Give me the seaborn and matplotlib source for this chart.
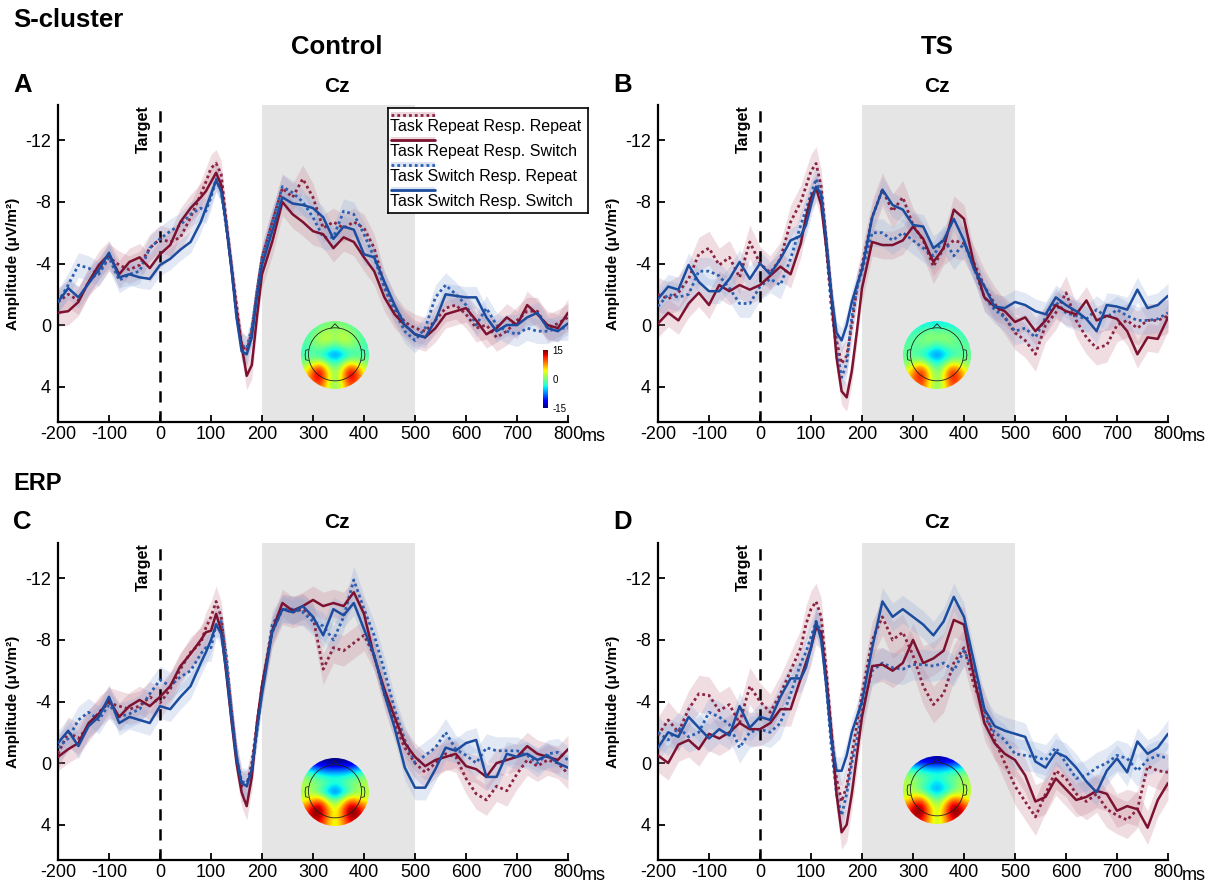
import numpy as np
import pandas as pd
import seaborn as sns
import matplotlib
matplotlib.use('Agg')
import matplotlib.pyplot as plt
from matplotlib.patches import Circle
from matplotlib.cm import ScalarMappable
from matplotlib.colors import Normalize

# Time axis (ms), denser around the P1/N1 deflection
TIME = [-200, -180, -160, -140, -120, -100, -80, -60, -40, -20, 0, 20, 40, 60, 80,
        90, 100, 110, 120, 130, 140, 150, 160, 170, 180, 190, 200,
        220, 240, 260, 280, 300, 320, 340, 360, 380, 400, 420, 440, 460, 480, 500,
        520, 540, 560, 580, 600, 620, 640, 660, 680, 700, 720, 740, 760, 780, 800]

# RR = Task Repeat Resp. Repeat, RS = Task Repeat Resp. Switch,
# SR = Task Switch Resp. Repeat, SS = Task Switch Resp. Switch
# A: S-cluster, Control
A_RR = [-1.5, -2.0, -1.6, -2.8, -3.5, -4.4, -3.9, -3.6, -3.9, -5.0, -5.6, -5.4, -5.7, -7.0, -8.5,
        -9.3, -10.2, -10.5, -9.8, -6.7, -3.9, -1.3, 1.3, 1.7, 0.4, -2.2, -4.4,
        -6.7, -8.9, -8.3, -9.5, -8.3, -6.3, -6.7, -6.3, -6.7, -6.3, -5.0, -2.6, -1.1, -0.2, 0.2,
        0.4, -0.3, -1.1, -1.3, -0.7, 0.2, 0.0, 0.8, 0.4, -0.3, -0.9, -0.9, 0.2, -0.1, -0.5]
A_RS = [-0.8, -0.9, -1.5, -2.8, -3.9, -4.6, -3.3, -4.1, -4.4, -3.7, -4.6, -5.2, -6.7, -7.6, -8.3,
        -8.7, -9.3, -9.9, -9.1, -6.5, -3.7, -0.9, 1.3, 3.3, 2.6, -0.5, -3.3,
        -5.4, -8.0, -7.2, -6.7, -6.1, -5.9, -5.0, -5.7, -5.4, -4.4, -3.5, -1.8, -0.7, 0.0, 0.6,
        0.8, 0.2, -0.7, -0.9, -1.1, -0.3, 0.6, 0.2, -0.5, 0.0, -1.3, -0.7, 0.0, 0.2, -0.8]
A_SR = [-1.5, -2.6, -3.9, -3.7, -3.3, -4.4, -2.9, -3.3, -3.5, -5.0, -5.6, -6.1, -6.5, -7.2, -7.6,
        -7.4, -8.3, -9.5, -8.7, -6.3, -3.9, -0.7, 1.3, 1.5, 0.2, -2.2, -4.4,
        -6.7, -9.0, -8.6, -8.0, -7.0, -5.7, -5.7, -7.4, -7.2, -5.9, -4.4, -2.4, -0.9, 0.4, 1.0,
        0.2, -1.8, -2.6, -2.0, -1.3, 0.0, -1.1, 0.0, 0.4, 0.6, 0.2, 0.4, 0.4, 0.2, 0.2]
A_SS = [-1.5, -2.4, -1.8, -2.7, -3.6, -4.7, -3.1, -3.3, -3.1, -3.0, -3.9, -4.3, -4.9, -5.4, -6.7,
        -7.6, -8.5, -9.4, -8.7, -6.5, -3.7, -0.5, 1.7, 1.9, 0.8, -1.8, -3.9,
        -6.1, -8.3, -7.9, -7.8, -7.6, -7.0, -5.6, -6.4, -6.2, -4.6, -4.4, -2.8, -1.3, 0.0, 0.6,
        0.8, -0.3, -2.0, -1.9, -1.8, -1.8, -0.5, 0.4, 0.0, 0.0, -0.5, -0.8, 0.2, 0.4, -0.1]

# B: S-cluster, TS
B_RR = [-2.0, -1.7, -2.1, -3.0, -4.6, -5.0, -3.9, -4.4, -3.1, -5.4, -4.0, -3.4, -4.3, -6.7, -8.0,
        -9.0, -10.0, -10.5, -9.0, -5.5, -2.0, 1.0, 2.5, 2.0, 0.0, -2.4, -3.9,
        -7.0, -8.8, -7.4, -8.3, -6.5, -5.5, -3.8, -5.0, -5.5, -5.3, -4.0, -2.5, -1.4, -0.5, 0.5,
        1.0, 1.9, 0.0, -0.8, -2.1, -0.3, 0.8, 1.5, 1.3, 0.0, -0.3, 0.2, -0.3, -0.3, -0.6]
B_RS = [-0.1, -0.8, -0.3, -1.4, -2.1, -1.3, -2.6, -2.2, -2.6, -2.3, -2.6, -3.2, -3.8, -3.3, -5.3,
        -7.0, -8.3, -8.9, -7.8, -5.0, -1.8, 2.1, 4.3, 4.7, 3.0, 0.4, -2.4,
        -5.4, -5.2, -5.2, -5.5, -6.4, -5.6, -4.1, -5.0, -7.5, -6.9, -3.9, -1.8, -1.2, -0.9, -0.2,
        -0.5, 0.4, -0.3, -1.3, -0.9, -0.7, -1.6, -0.3, -0.6, -0.4, 0.4, 1.9, 0.8, 0.9, -0.5]
B_SR = [-1.2, -2.0, -1.8, -2.0, -3.5, -3.5, -3.2, -2.4, -1.4, -1.4, -2.5, -3.0, -2.6, -4.3, -6.5,
        -7.5, -8.5, -9.5, -8.5, -5.0, -1.0, 1.5, 3.4, 2.5, -0.5, -2.4, -3.5,
        -6.0, -6.0, -5.5, -6.0, -5.5, -5.0, -4.5, -5.6, -4.5, -5.3, -3.7, -1.8, -1.0, -0.5, 0.4,
        0.2, 0.8, -0.5, -1.5, -0.8, -0.6, -0.4, -1.0, -0.5, -1.0, -0.6, -0.3, -0.3, -0.4, -0.8]
B_SS = [-1.7, -2.5, -2.3, -3.9, -2.8, -2.2, -2.2, -3.0, -4.1, -3.0, -4.0, -3.3, -4.3, -5.5, -5.8,
        -6.5, -7.8, -9.0, -8.5, -5.5, -2.0, 0.5, 1.0, 0.0, -1.5, -2.6, -3.6,
        -7.0, -8.8, -7.8, -7.5, -6.5, -6.4, -5.0, -5.5, -6.9, -5.5, -3.6, -2.5, -1.2, -1.1, -1.5,
        -1.3, -0.9, -0.7, -1.8, -1.3, -0.9, -0.4, 0.4, -1.3, -1.2, -1.0, -2.3, -1.1, -1.3, -1.9]

# C: ERP, Control
C_RR = [-0.6, -2.0, -1.6, -2.4, -3.3, -3.9, -3.7, -3.5, -3.7, -4.3, -3.9, -4.8, -6.1, -7.2, -7.8,
        -8.8, -9.5, -10.5, -9.5, -6.5, -3.5, -0.5, 1.5, 1.5, 0.0, -2.5, -5.0,
        -8.5, -10.0, -9.8, -10.0, -9.5, -6.1, -7.5, -7.3, -7.8, -8.3, -7.0, -4.5, -2.5, -1.0, 0.0,
        0.6, 0.0, -0.6, -0.4, 1.0, 2.0, 2.4, 1.5, 1.8, 0.7, -0.2, 0.2, -0.2, 0.0, 0.7]
C_RS = [-0.4, -0.9, -1.3, -2.6, -3.2, -4.1, -3.0, -3.7, -4.1, -3.7, -4.3, -5.0, -6.3, -7.1, -8.0,
        -8.5, -8.6, -9.7, -8.6, -5.8, -2.8, 0.0, 1.9, 2.8, 0.9, -2.6, -5.0,
        -8.6, -10.4, -9.9, -10.2, -10.6, -10.2, -10.4, -10.2, -11.1, -9.7, -6.9, -4.8, -3.0, -1.3, -0.4,
        0.2, -0.2, -0.4, -0.6, 0.2, 0.4, 0.9, 0.0, -0.2, -0.4, -1.1, -0.6, -0.4, -0.2, -0.9]
C_SR = [-1.0, -1.6, -2.8, -3.3, -2.8, -3.8, -3.0, -3.2, -3.5, -4.5, -5.4, -5.0, -5.6, -6.0, -7.1,
        -7.5, -7.5, -9.0, -9.2, -7.0, -3.5, -0.5, 1.2, 1.3, 0.5, -2.0, -4.8,
        -9.0, -10.0, -10.0, -9.8, -9.2, -8.9, -8.0, -9.5, -11.9, -10.0, -8.3, -6.0, -3.5, -1.5, 0.0,
        -0.5, -1.0, -2.0, -0.9, -0.5, 0.0, -1.0, -0.8, -0.8, -0.8, -0.5, 0.0, -0.6, -0.7, -0.2]
C_SS = [-1.3, -2.1, -1.1, -2.4, -3.0, -4.3, -2.6, -3.0, -2.8, -2.6, -3.7, -3.5, -4.3, -5.0, -6.5,
        -7.2, -8.0, -9.0, -8.4, -6.0, -3.0, -0.3, 1.3, 1.5, 0.4, -2.2, -4.5,
        -8.5, -10.0, -9.8, -10.2, -9.5, -8.3, -10.0, -9.6, -10.4, -8.7, -7.0, -4.5, -2.3, 0.3, 1.6,
        1.6, 0.4, -1.0, -0.8, -1.3, -1.5, 0.9, 0.9, -0.6, -0.4, -0.6, -0.2, -0.5, 0.0, 0.3]

# D: ERP, TS
D_RR = [-1.8, -2.8, -2.0, -3.5, -4.5, -4.4, -3.4, -3.8, -2.6, -5.0, -4.0, -3.3, -4.5, -6.0, -7.5,
        -9.0, -10.0, -10.5, -9.5, -6.0, -2.0, 1.0, 2.5, 1.5, -0.5, -2.5, -4.5,
        -8.0, -9.5, -8.0, -8.5, -7.0, -5.0, -3.8, -4.5, -6.5, -7.5, -5.0, -3.5, -1.5, 0.0, 1.5,
        2.5, 3.5, 2.0, 0.5, 1.0, 2.0, 2.5, 2.0, 3.0, 3.4, 3.7, 3.0, 0.2, 0.5, 0.6]
D_RS = [-0.5, 0.0, -1.2, -1.5, -0.9, -1.9, -1.6, -2.0, -2.6, -2.2, -2.2, -2.6, -3.5, -3.5, -5.5,
        -6.5, -7.5, -8.8, -8.5, -5.5, -2.0, 2.0, 4.5, 4.0, 2.0, -0.5, -3.0,
        -6.3, -6.4, -6.0, -6.5, -8.0, -6.5, -6.8, -7.3, -9.3, -9.0, -5.5, -2.6, -1.3, -0.6, -0.2,
        0.8, 2.5, 2.2, 1.0, 1.7, 2.4, 2.2, 1.8, 2.0, 3.1, 2.8, 3.0, 4.2, 2.4, 1.3]
D_SR = [-2.0, -1.5, -2.3, -1.7, -2.0, -3.3, -3.0, -2.5, -1.0, -2.0, -2.2, -2.0, -2.6, -4.5, -6.5,
        -7.2, -8.2, -9.2, -8.5, -5.0, -1.0, 2.0, 3.4, 2.0, 0.0, -1.5, -3.5,
        -6.0, -6.5, -6.2, -6.1, -6.4, -6.4, -6.3, -6.5, -6.0, -7.3, -6.0, -3.0, -2.0, -1.5, -0.6,
        -0.5, -0.4, -0.2, -1.0, 0.0, 1.0, 0.8, 0.3, 0.0, -0.5, -0.3, 0.5, -0.2, -0.5, -0.3]
D_SS = [-1.0, -2.0, -1.7, -3.0, -2.3, -1.6, -2.2, -1.8, -3.7, -2.3, -3.0, -2.8, -4.3, -5.5, -5.5,
        -6.2, -7.5, -9.2, -8.0, -5.0, -1.5, 0.5, 0.5, -0.5, -2.0, -3.0, -4.0,
        -7.5, -10.5, -9.5, -10.0, -9.5, -9.0, -8.3, -9.2, -10.8, -9.5, -6.5, -3.5, -2.4, -2.1, -1.9,
        -1.7, -0.1, 0.3, -0.7, -0.4, 0.3, 1.2, 1.9, 0.5, -0.3, 0.6, -1.4, -0.6, -1.0, -1.9]

# standard error half-widths per series (RR, RS, SR, SS)
SEM_A = [0.9, 0.9, 0.8, 0.7]
SEM_B = [1.1, 0.9, 0.9, 0.8]
SEM_C = [1.0, 0.9, 0.9, 0.8]
SEM_D = [1.2, 1.1, 1.0, 0.9]

# scalp maps, coarse 9x9 grids (front row first), uV/m^2
TOPO_A = [[-2, -2, -1, 0, 0, 0, -1, -2, -2],
          [-2, -1, 1, 2, 1, 2, 1, -1, -2],
          [-2, 0, 2, 3, 1, 3, 2, 0, -2],
          [-2, -1, 0, -1, -3, -1, 0, -1, -2],
          [-2, -2, -3, -6, -8, -6, -3, -2, -2],
          [0, 2, 4, 0, -3, 0, 4, 2, 0],
          [3, 9, 13, 5, 0, 5, 13, 9, 3],
          [4, 11, 14, 6, 0, 6, 14, 11, 4],
          [3, 8, 10, 4, 0, 4, 10, 8, 3]]
TOPO_B = [[-4, -4, -4, -4, -4, -4, -4, -4, -4],
          [-3, -2, -1, 0, 0, 0, -1, -2, -3],
          [-2, -1, 0, 1, 0, 1, 0, -1, -2],
          [-1, -1, -1, -2, -4, -2, -1, -1, -1],
          [-1, -2, -3, -6, -8, -6, -3, -2, -1],
          [0, 2, 3, -1, -4, -1, 3, 2, 0],
          [3, 8, 11, 4, -1, 4, 11, 8, 3],
          [4, 10, 13, 5, 0, 5, 13, 10, 4],
          [3, 8, 10, 4, 0, 4, 10, 8, 3]]
TOPO_C = [[-10, -13, -14, -15, -15, -15, -14, -13, -10],
          [-4, -6, -8, -9, -9, -9, -8, -6, -4],
          [1, -1, -2, -3, -3, -3, -2, -1, 1],
          [2, 1, 0, -2, -4, -2, 0, 1, 2],
          [2, 1, -2, -6, -9, -6, -2, 1, 2],
          [3, 6, 8, 2, -2, 2, 8, 6, 3],
          [8, 13, 15, 8, 2, 8, 15, 13, 8],
          [10, 15, 15, 9, 3, 9, 15, 15, 10],
          [8, 12, 12, 7, 3, 7, 12, 12, 8]]
TOPO_D = [[-9, -12, -13, -14, -14, -14, -13, -12, -9],
          [-3, -5, -6, -7, -7, -7, -6, -5, -3],
          [1, 0, -1, -2, -3, -2, -1, 0, 1],
          [2, 1, -1, -3, -5, -3, -1, 1, 2],
          [2, 1, -2, -5, -7, -5, -2, 1, 2],
          [3, 6, 7, 1, -2, 1, 7, 6, 3],
          [8, 13, 14, 6, 1, 6, 14, 13, 8],
          [10, 15, 15, 8, 2, 8, 15, 15, 10],
          [8, 12, 12, 6, 2, 6, 12, 12, 8]]

LABELS = ['Task Repeat Resp. Repeat', 'Task Repeat Resp. Switch',
          'Task Switch Resp. Repeat', 'Task Switch Resp. Switch']
XTICKS = [-200, -100, 0, 100, 200, 300, 400, 500, 600, 700, 800]
XTICKLABELS = ['-200', '-100', '0', '100', '200', '300', '400', '500', '600', '700', '800']
YTICKS = [-12, -8, -4, 0, 4]
YTICKLABELS = ['-12', '-8', '-4', '0', '4']

# styles
COLORS = ['#8a2442', '#7c1230', '#2d5fb0', '#1c4c9e']
BANDS = ['#c27b8f', '#c27b8f', '#8da8d8', '#8da8d8']
STYLES = [(0, (1, 1.1)), '-', (0, (1, 1.1)), '-']
GRAY = '#e5e5e5'

sns.set_style('ticks')
plt.rcParams['font.family'] = ['Liberation Sans', 'DejaVu Sans']
plt.rcParams.update({'text.color': 'black', 'axes.labelcolor': 'black',
                     'xtick.color': 'black', 'ytick.color': 'black',
                     'axes.edgecolor': 'black'})

W, H = 1218, 882
fig = plt.figure(figsize=(W / 100, H / 100), dpi=100)


def px_axes(x0, y_top, w, h):
    return fig.add_axes([x0 / W, 1 - (y_top + h) / H, w / W, h / H])


def draw_panel(ax, series, sem):
    ax.axvspan(200, 500, color=GRAY, lw=0, zorder=0)
    for vals, s, band in zip(series, sem, BANDS):
        v = np.array(vals)
        ax.fill_between(TIME, v - s, v + s, color=band, alpha=0.25, lw=0, zorder=1)
    ax.axvline(0, color='k', lw=1.8, ls=(0, (4.5, 3.5)), zorder=1.5)
    for i in [0, 2, 1, 3]:
        sns.lineplot(x=TIME, y=series[i], ax=ax, color=COLORS[i], linestyle=STYLES[i],
                     linewidth=2.0 if i in (0, 2) else 1.8, errorbar=None, zorder=3)
    ax.set_xlim(-200, 800)
    ax.set_ylim(6.3, -14.3)
    ax.set_xticks(XTICKS)
    ax.set_xticklabels(XTICKLABELS)
    ax.set_yticks(YTICKS)
    ax.set_yticklabels(YTICKLABELS)
    ax.tick_params(direction='in', length=5, width=1.3, labelsize=13)
    ax.tick_params(axis='x', pad=3)
    ax.tick_params(axis='y', pad=5)
    sns.despine(ax=ax)
    for sp in ['left', 'bottom']:
        ax.spines[sp].set_linewidth(1.6)
    ax.set_xlabel('')
    ax.set_ylabel('Amplitude (\u03bcV/m\u00b2)', fontsize=11, fontweight='bold', labelpad=4)
    ax.text(-33, -14.3, 'Target', rotation=90, ha='center', va='top',
            fontsize=11.5, fontweight='bold')


def draw_topo(cx, cy, grid, r=34):
    tax = px_axes(cx - r, cy - r, 2 * r, 2 * r)
    im = tax.imshow(np.array(grid, dtype=float), cmap='jet', vmin=-15, vmax=15,
                    extent=(-1, 1, -1, 1), origin='upper', interpolation='bicubic')
    im.set_clip_path(Circle((0, 0), 1, transform=tax.transData))
    tax.add_patch(Circle((0, 0.02), 0.78, fill=False, lw=0.6, ec='#222222'))
    tax.plot([-0.12, 0, 0.12], [0.79, 0.92, 0.79], color='#222222', lw=0.6)
    for sgn in (-1, 1):
        tax.plot([sgn * 0.78, sgn * 0.86, sgn * 0.88, sgn * 0.86, sgn * 0.78],
                 [0.16, 0.14, 0.0, -0.14, -0.16], color='#222222', lw=0.6)
    tax.set_xlim(-1, 1)
    tax.set_ylim(-1, 1)
    tax.axis('off')


panels = [
    ((58, 105), [A_RR, A_RS, A_SR, A_SS], SEM_A, TOPO_A, (335, 355)),
    ((658, 105), [B_RR, B_RS, B_SR, B_SS], SEM_B, TOPO_B, (937, 355)),
    ((58, 543), [C_RR, C_RS, C_SR, C_SS], SEM_C, TOPO_C, (335, 792)),
    ((658, 543), [D_RR, D_RS, D_SR, D_SS], SEM_D, TOPO_D, (937, 790)),
]

for (x0, y0), series, sem, topo, (tcx, tcy) in panels:
    ax = px_axes(x0, y0, 510, 317)
    draw_panel(ax, series, sem)
    fig.text((x0 + 510 + 14) / W, 1 - (y0 + 317 + 15) / H, 'ms', fontsize=13,
             ha='left', va='center')
    draw_topo(tcx, tcy, topo)

# colour bar in panel A
cax = px_axes(543, 350, 5, 58)
cb = fig.colorbar(ScalarMappable(norm=Normalize(-15, 15), cmap='jet'), cax=cax,
                  ticks=[-15, 0, 15])
cb.ax.set_yticklabels(['-15', '0', '15'])
cb.ax.tick_params(labelsize=7, length=0, pad=3)
cb.outline.set_visible(False)

# legend box in panel A
lax = px_axes(388, 108, 200, 105)
lax.set_xlim(0, 200)
lax.set_ylim(105, 0)
lax.set_xticks([])
lax.set_yticks([])
lax.set_facecolor('white')
for sp in lax.spines.values():
    sp.set_linewidth(1.2)
    sp.set_color('black')
for i, lab in enumerate(LABELS):
    ly = 7 + 25 * i
    lax.fill_between([3, 47], ly - 2.5, ly + 2.5, color=BANDS[i], alpha=0.3, lw=0)
    lax.plot([3, 47], [ly, ly], color=COLORS[i], linestyle=STYLES[i], lw=2.0)
    lax.text(2, ly + 11.5, lab, fontsize=11.5, ha='left', va='center')

# headings
fig.text(13 / W, 1 - 20 / H, 'S-cluster', fontsize=18.5, fontweight='bold', ha='left', va='center')
fig.text(337 / W, 1 - 47 / H, 'Control', fontsize=18.5, fontweight='bold', ha='center', va='center')
fig.text(937 / W, 1 - 47 / H, 'TS', fontsize=18.5, fontweight='bold', ha='center', va='center')
fig.text(13 / W, 1 - 483 / H, 'ERP', fontsize=17, fontweight='bold', ha='left', va='center')
for letter, lx, ly in [('A', 13, 85), ('B', 613, 85), ('C', 13, 522), ('D', 613, 522)]:
    fig.text(lx / W, 1 - ly / H, letter, fontsize=18.5, fontweight='bold', ha='left', va='center')
for cx, cy in [(337, 87), (937, 87), (337, 523), (937, 523)]:
    fig.text(cx / W, 1 - cy / H, 'Cz', fontsize=15, fontweight='bold', ha='center', va='center')

fig.savefig('out.png', dpi=100)
